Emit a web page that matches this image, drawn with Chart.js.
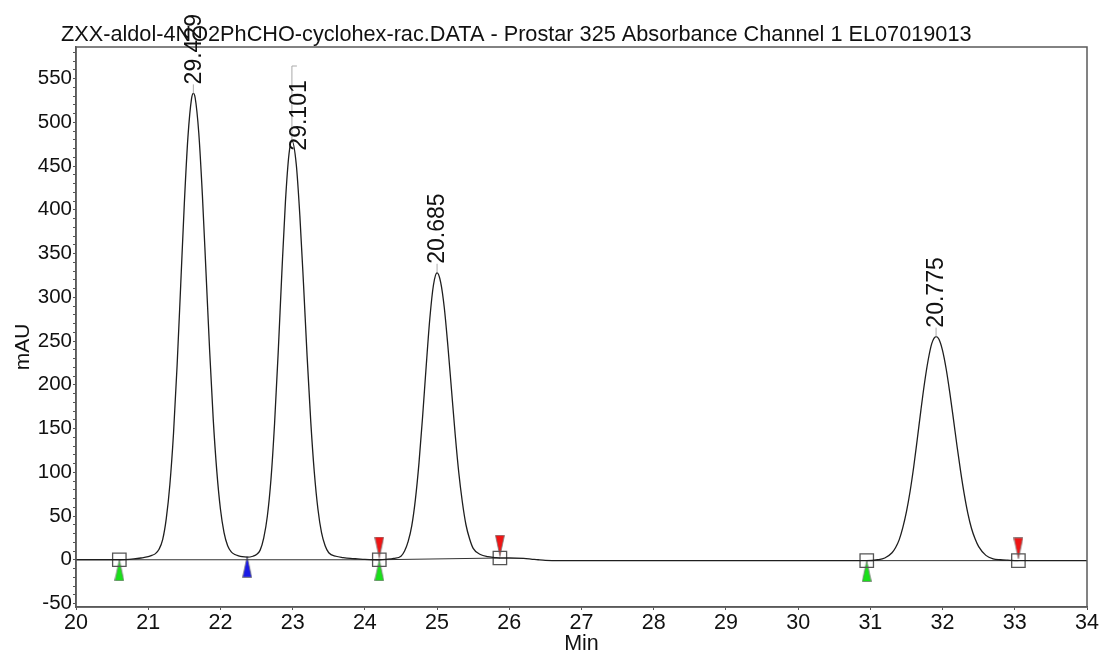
<!DOCTYPE html>
<html>
<head>
<meta charset="utf-8">
<title>Chromatogram</title>
<script src="https://cdn.jsdelivr.net/npm/chart.js@4.4.0/dist/chart.umd.min.js"></script>
<style>
  body { margin: 0; background: #fff; }
  canvas { display: block; }
</style>
</head>
<body>
<canvas id="chromChart" width="1101" height="655"></canvas>
<script>
// retention time (min) and detector signal (mAU)
const times = [20.0, 20.2, 20.4, 20.6, 20.8, 20.9, 21.0, 21.05, 21.1, 21.15, 21.2, 21.25, 21.3, 21.35, 21.4, 21.45, 21.5, 21.55, 21.6, 21.625,
    21.65, 21.7, 21.75, 21.8, 21.85, 21.9, 21.95, 22.0, 22.05, 22.1, 22.15, 22.2, 22.25, 22.3, 22.37, 22.45, 22.5, 22.55, 22.6, 22.65,
    22.7, 22.75, 22.8, 22.85, 22.9, 22.95, 22.99, 23.05, 23.1, 23.15, 23.2, 23.25, 23.3, 23.35, 23.4, 23.45, 23.5, 23.6, 23.7, 23.8,
    23.9, 24.0, 24.2, 24.3, 24.4, 24.5, 24.55, 24.6, 24.65, 24.7, 24.75, 24.8, 24.85, 24.9, 24.95, 25.0, 25.05, 25.1, 25.15, 25.2,
    25.25, 25.3, 25.35, 25.4, 25.45, 25.5, 25.6, 25.7, 25.8, 25.87, 26.0, 26.2, 26.3, 26.4, 26.5, 27.0, 28.0, 29.0, 30.0, 30.5,
    30.95, 31.1, 31.2, 31.3, 31.35, 31.4, 31.45, 31.5, 31.55, 31.6, 31.65, 31.7, 31.75, 31.8, 31.85, 31.91, 31.95, 32.0, 32.05, 32.1,
    32.15, 32.2, 32.25, 32.3, 32.35, 32.4, 32.45, 32.5, 32.6, 32.7, 32.8, 32.9, 33.05, 33.5, 34.0];
const signal = [0, 0, 0, 0, 1, 2, 3.5, 5, 7, 12, 23, 47, 86, 144, 222, 314, 407, 483, 527, 533,
    528, 488, 417, 329, 240, 161, 101, 58, 31, 16, 9, 6, 4.5, 3.5, 3, 4, 6, 11, 25, 50,
    92, 156, 237, 327, 409, 464, 479, 452, 393, 316, 233, 159, 100, 58, 31, 16, 8, 4, 2.5, 1.5,
    1, 0.5, 0, 0.5, 1.5, 4, 10, 21, 39, 69, 111, 164, 222, 276, 314, 328, 317, 288, 244, 194,
    144, 100, 66, 40, 24, 13, 6, 3.5, 2.5, 2, 2, 1.5, 0.8, 0, -0.6, -1, -1, -1, -1, -1,
    -1, 0, 2, 8, 14, 23, 37, 55, 78, 106, 138, 171, 202, 228, 247, 255, 252, 239, 218, 191,
    161, 130, 101, 75, 53, 36, 24, 15, 5, 1, 0, -0.5, -1, -1, -1];

// peak apex and retention labels
const peakTimes = [21.625, 22.99, 25.0, 31.91];
const peakHeights = [533, 479, 328, 255];
const peakLabels = ['29.429', '29.101', '20.685', '20.775'];

// integration events
const boxTimes = [20.6, 24.2, 25.87, 30.95, 33.05];
const boxLevels = [0, 0, 2, -1, -1];
const startTimes = [20.6, 24.2, 30.95];
const startLevels = [-12, -12, -13];
const endTimes = [24.2, 25.87, 33.05];
const endLevels = [14, 16, 13];
const valleyTimes = [22.37];
const valleyLevels = [-8];

// drawn baselines: [t0, y0, t1, y1]
const baselines = [[20.6, 0, 24.2, 0], [24.2, 0, 25.87, 2], [30.95, -1, 33.05, -1]];

const xTicks = [20, 21, 22, 23, 24, 25, 26, 27, 28, 29, 30, 31, 32, 33, 34];
const yTickLabels = [-50, 0, 50, 100, 150, 200, 250, 300, 350, 400, 450, 500, 550];

const titleText = 'ZXX-aldol-4NO2PhCHO-cyclohex-rac.DATA - Prostar 325 Absorbance Channel 1 EL07019013';
const FONT = '"Liberation Sans", Arial, sans-serif';

// minor y ticks every 10 mAU between the labelled ones
const yMinorTicks = [];
for (let v = yTickLabels[0]; v <= yTickLabels[yTickLabels.length - 1] + 30; v += 10) {
    yMinorTicks.push(v);
}

function triangleImage(fill, up) {
    const c = document.createElement('canvas');
    c.width = 10;
    c.height = 22;
    const g = c.getContext('2d');
    g.beginPath();
    if (up) {
        g.moveTo(5, 0.5);
        g.lineTo(9.5, 21.5);
        g.lineTo(0.5, 21.5);
    } else {
        g.moveTo(0.5, 0.5);
        g.lineTo(9.5, 0.5);
        g.lineTo(5, 21.5);
    }
    g.closePath();
    g.fillStyle = fill;
    g.fill();
    g.strokeStyle = 'rgba(120,120,120,0.8)';
    g.lineWidth = 1;
    g.stroke();
    return c;
}

const toPoints = (xs, ys) => xs.map((x, i) => ({ x: x, y: ys[i] }));

const baselinePoints = [];
baselines.forEach((b) => {
    baselinePoints.push({ x: b[0], y: b[1] }, { x: b[2], y: b[3] }, { x: b[2], y: null });
});

// frame, peak labels, titles
const decorations = {
    id: 'decorations',
    afterDatasetsDraw(chart) {
        const ctx = chart.ctx;
        const area = chart.chartArea;
        const xs = chart.scales.x;
        const ys = chart.scales.y;

        ctx.save();
        ctx.strokeStyle = '#5a5a5a';
        ctx.lineWidth = 1.5;
        ctx.strokeRect(area.left, area.top, area.right - area.left, area.bottom - area.top);

        ctx.font = '23px ' + FONT;
        ctx.fillStyle = '#111';
        ctx.textAlign = 'left';
        ctx.textBaseline = 'middle';
        peakTimes.forEach((t, i) => {
            const px = xs.getPixelForValue(t);
            const py = ys.getPixelForValue(peakHeights[i]);
            ctx.strokeStyle = '#aaa';
            ctx.lineWidth = 1;
            ctx.beginPath();
            let tx = px;
            let ty = py - 9;
            if (i === 1) {
                // label pushed aside, leader runs up to the top
                ctx.moveTo(px, py);
                ctx.lineTo(px, area.top + 19);
                ctx.lineTo(px + 5, area.top + 19);
                tx = px + 7;
                ty = py + 10;
            } else {
                ctx.moveTo(px, py);
                ctx.lineTo(px, py - 9);
            }
            ctx.stroke();
            ctx.save();
            ctx.translate(tx, ty);
            ctx.rotate(-Math.PI / 2);
            ctx.fillText(peakLabels[i], 0, 1);
            ctx.restore();
        });

        ctx.fillStyle = '#111';
        ctx.font = '21.7px ' + FONT;
        ctx.textAlign = 'left';
        ctx.textBaseline = 'alphabetic';
        ctx.fillText(titleText, 61, 41);

        ctx.font = '21.5px ' + FONT;
        ctx.textAlign = 'center';
        ctx.fillText('Min', (area.left + area.right) / 2, 650);

        ctx.font = '21px ' + FONT;
        ctx.save();
        ctx.translate(29, 347);
        ctx.rotate(-Math.PI / 2);
        ctx.fillText('mAU', 0, 0);
        ctx.restore();
        ctx.restore();
    }
};

const ctx = document.getElementById('chromChart').getContext('2d');

const chromChart = new Chart(ctx, {
    type: 'line',
    data: {
        datasets: [
            {
                label: 'Channel 1',
                data: toPoints(times, signal),
                borderColor: '#1e1e1e',
                borderWidth: 1.3,
                pointRadius: 0,
                cubicInterpolationMode: 'monotone',
                fill: false,
            },
            {
                label: 'baseline',
                data: baselinePoints,
                borderColor: '#333',
                borderWidth: 1,
                pointRadius: 0,
                spanGaps: false,
                fill: false,
            },
            {
                label: 'events',
                data: toPoints(boxTimes, boxLevels),
                showLine: false,
                pointStyle: 'rect',
                pointRadius: 9.5,
                pointBorderColor: '#555',
                pointBackgroundColor: 'rgba(255,255,255,0)',
                pointBorderWidth: 1.3,
            },
            {
                label: 'start',
                data: toPoints(startTimes, startLevels),
                showLine: false,
                pointStyle: triangleImage('#19e019', true),
            },
            {
                label: 'end',
                data: toPoints(endTimes, endLevels),
                showLine: false,
                pointStyle: triangleImage('#f01414', false),
            },
            {
                label: 'valley',
                data: toPoints(valleyTimes, valleyLevels),
                showLine: false,
                pointStyle: triangleImage('#1a1ae6', true),
            },
        ],
    },
    options: {
        responsive: false,
        animation: false,
        layout: { padding: { top: 47, right: 14, left: 0, bottom: 0 } },
        plugins: {
            legend: { display: false },
            tooltip: { enabled: false },
            title: { display: false },
        },
        scales: {
            x: {
                type: 'linear',
                min: xTicks[0],
                max: xTicks[xTicks.length - 1],
                afterFit: (scale) => { scale.height = 48; },
                afterBuildTicks: (scale) => { scale.ticks = xTicks.map((v) => ({ value: v })); },
                ticks: {
                    autoSkip: false,
                    maxRotation: 0,
                    padding: 0,
                    color: '#111',
                    font: { family: FONT, size: 21.5 },
                },
                grid: { drawOnChartArea: false, tickLength: 3, color: '#555' },
                border: { color: '#5a5a5a', width: 1.5 },
            },
            y: {
                type: 'linear',
                min: -54,
                max: 586,
                afterFit: (scale) => { scale.width = 76; },
                afterBuildTicks: (scale) => { scale.ticks = yMinorTicks.map((v) => ({ value: v })); },
                ticks: {
                    autoSkip: false,
                    padding: 1,
                    color: '#111',
                    font: { family: FONT, size: 20.5 },
                    callback: (value) => (yTickLabels.includes(value) ? String(value) : ''),
                },
                grid: { drawOnChartArea: false, tickLength: 3, color: '#555' },
                border: { color: '#5a5a5a', width: 1.5 },
            },
        },
    },
    plugins: [decorations],
});
</script>
</body>
</html>
